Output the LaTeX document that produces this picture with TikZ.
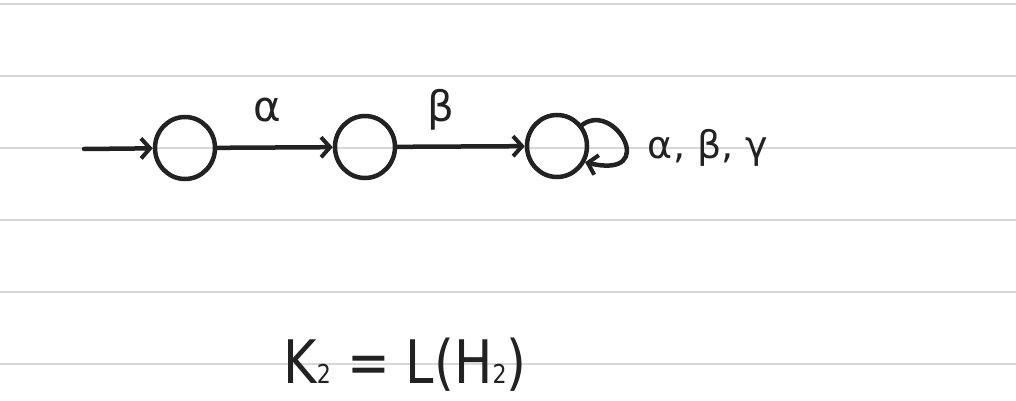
\documentclass[tikz,border=0pt]{standalone}
\usepackage{fontspec}
\setmainfont{DejaVu Sans}
\usetikzlibrary{arrows.meta,shapes.geometric}
\definecolor{ink}{HTML}{222222}
\definecolor{rule}{HTML}{D8D8D8}
\newcommand{\smalltwo}{{\fontsize{26}{28}\selectfont 2}}
\tikzset{
  state/.style={ellipse, draw=ink, line width=4.5pt, minimum width=60pt, minimum height=62pt, inner sep=0pt},
  edge/.style={draw=ink, line width=4.5pt, line cap=round, -{Straight Barb[length=9pt,width=20pt,line width=4pt]}},
  paperline/.style={draw=rule, line width=2.5pt},
  lbl/.style={text=ink, font=\fontsize{42}{48}\selectfont, inner sep=0pt},
}
\begin{document}
\begin{tikzpicture}[x=1pt,y=-1pt]
\useasboundingbox (0,0) rectangle (1016,401);
\fill[white] (0,0) rectangle (1016,401);
\foreach \yy in {4,76,148,220,292,364} \draw[paperline] (0,\yy) -- (1016,\yy);
\node[state] (n1) at (185,148) {};
\node[state] (n2) at (365,147) {};
\node[state] (n3) at (557,146) {};
\coordinate (start) at (84,149);
\draw[edge] (start) -- (n1);
\draw[edge] (n1) -- (n2);
\draw[edge] (n2) -- (n3);
\draw[edge] (n3.40) .. controls (615,100) and (660,180) .. (n3.-30);
\node[lbl] (la) at (267,110) {α};
\node[lbl] (lb) at (441,110) {β};
\node[lbl, font=\fontsize{38}{44}\selectfont] (lc) at (708,148) {α, β, γ};
\node[text=ink, inner sep=0pt, anchor=base] (eq) at (405,383) {\scalebox{0.85}[1]{\fontsize{60}{70}\selectfont K\smalltwo{} = L(H\smalltwo)}};
\end{tikzpicture}
\end{document}
